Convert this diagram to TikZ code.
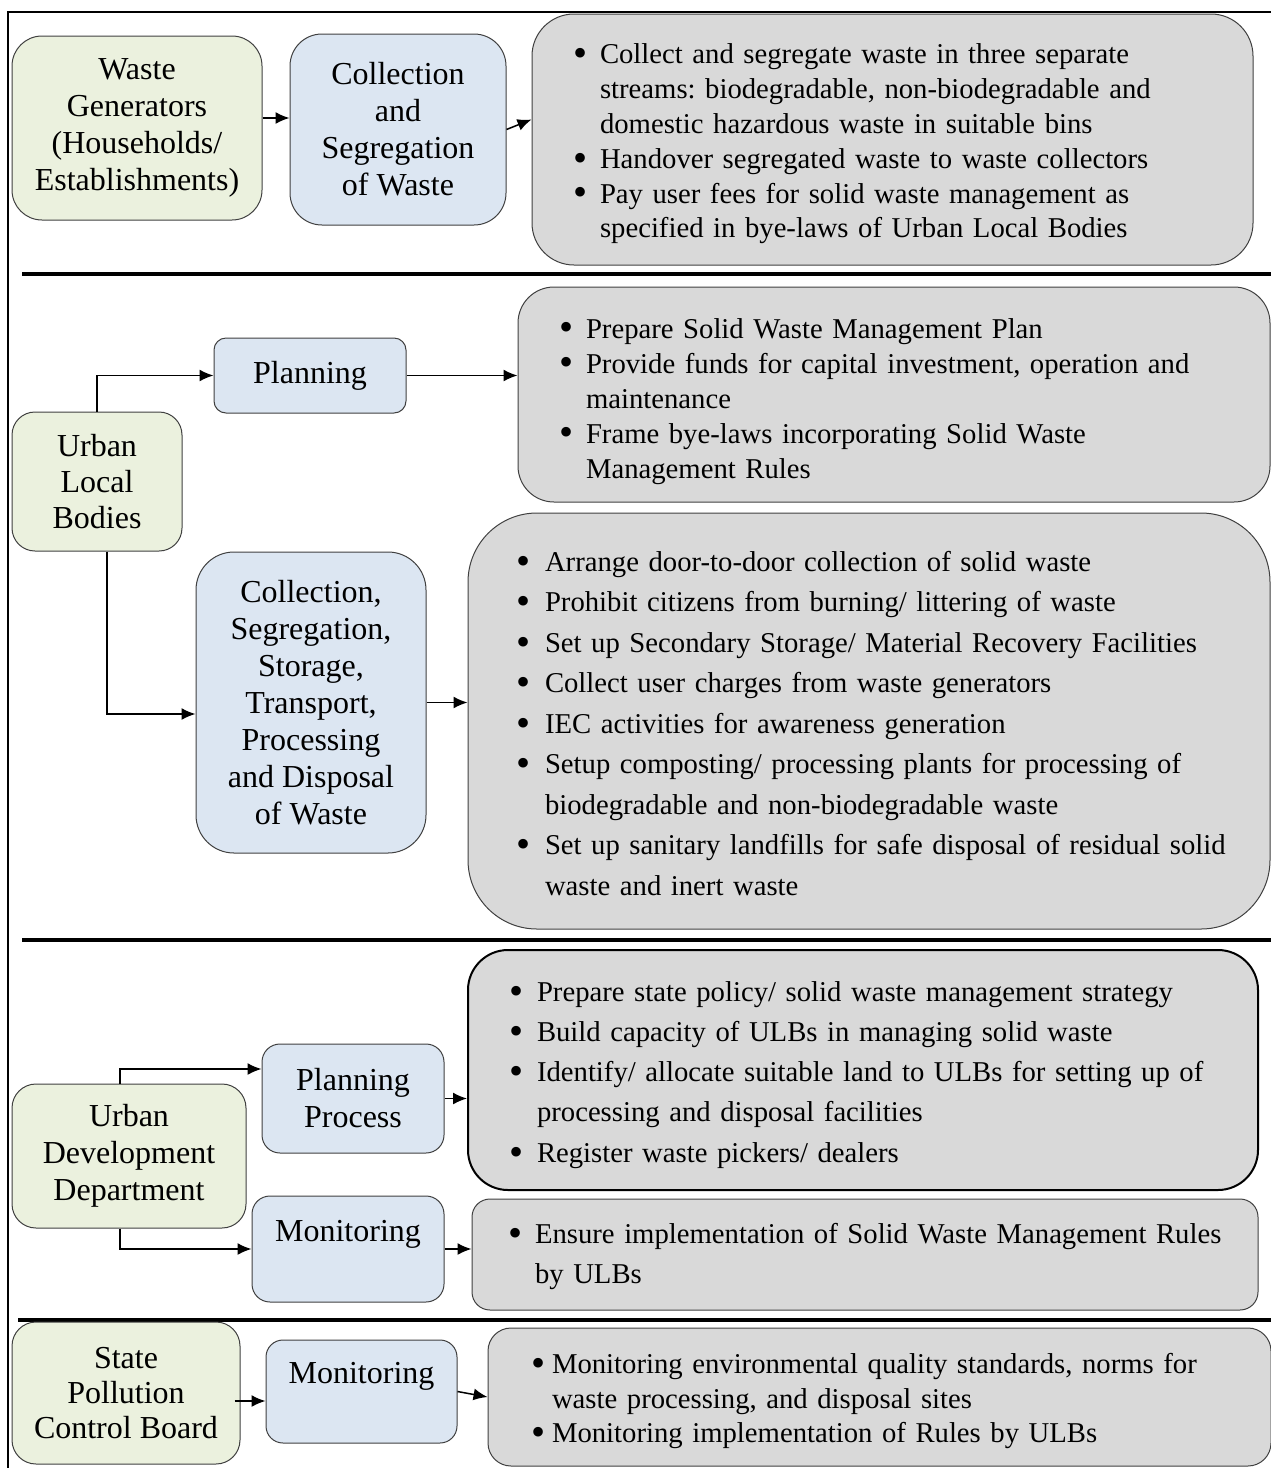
\documentclass[tikz,border=0pt]{standalone}
\usepackage{fontspec}
\setmainfont{Liberation Serif}
\usepackage{graphicx}
\usetikzlibrary{arrows.meta}

\definecolor{actorfill}{RGB}{235,241,222}
\definecolor{taskfill}{RGB}{220,230,242}
\definecolor{dutyfill}{RGB}{217,217,217}

\newlength\bulind
\setlength\bulind{27pt}
\newcommand\bitem[1]{\par\noindent\makebox[\bulind][l]{\smash{\raisebox{-0.1em}{\scalebox{1.4}{\textbullet}}}}\mbox{#1}}
\newcommand\bnext[1]{\par\noindent\hspace*{\bulind}\mbox{#1}}
\newcommand\bpad[1]{\unskip\rule[-#1]{0pt}{#1}}

\tikzset{
  actor/.style={draw=black!75, line width=1pt, fill=actorfill, align=center, inner sep=0pt, font=\fontsize{32}{37}\selectfont},
  task/.style={actor, fill=taskfill},
  duties/.style={draw=black!75, line width=1pt, fill=dutyfill, inner ysep=0pt, align=left, font=\fontsize{28.7}{35}\selectfont},
  flow/.style={-{Latex[length=14pt,width=12pt]}, line width=1.5pt},
  divider/.style={line width=4pt}
}

\begin{document}
\frenchspacing
\begin{tikzpicture}[x=1pt,y=1pt,yscale=-1]
\useasboundingbox (0,0) rectangle (1271,1468);

%Straight Lines
\draw [line width=1.5pt] (8,1468) -- (8,12) -- (1271,12);
%Straight Lines
\draw [divider] (22,274) -- (1271,274);
\draw [divider] (22,940) -- (1271,940);
\draw [divider] (18,1320) -- (1271,1320);

%Shape: Rounded Rect -- waste generators
\node [actor, rounded corners=30pt, minimum width=250pt, minimum height=184pt] (gen) at (137,128) {Waste\\Generators\\(Households/\\Establishments)};
\node [task, rounded corners=32pt, minimum width=216pt, minimum height=191pt] (segr) at (398,129.5) {Collection\\and\\Segregation\\of Waste};
\node [duties, rounded corners=42pt, minimum width=721pt, minimum height=251pt, inner xsep=41pt, text width=639pt, font=\fontsize{28.7}{34.8}\selectfont] (genlist) at (892.5,139.5) {%
\bitem{Collect and segregate waste in three separate}
\bnext{streams: biodegradable, non-biodegradable and}
\bnext{domestic hazardous waste in suitable bins}
\bitem{Handover segregated waste to waste collectors}
\bitem{Pay user fees for solid waste management as}
\bnext{specified in bye-laws of Urban Local Bodies}
\bpad{12pt}};

%Straight Lines
\draw [flow] ([yshift=-10pt]gen.east) -- ([yshift=-10pt]gen.east -| segr.west);
\draw [flow] (segr.east) -- ([yshift=-20pt]genlist.west);

%Shape: Rounded Rect -- urban local bodies
\node [actor, rounded corners=23pt, minimum width=170pt, minimum height=139pt, font=\fontsize{32}{36}\selectfont] (ulb) at (97,481.5) {Urban\\Local\\Bodies};
\node [task, rounded corners=12pt, minimum width=192pt, minimum height=75pt] (plan) at (310,375.5) {Planning};
\node [duties, rounded corners=36pt, minimum width=752pt, minimum height=215pt, inner xsep=41pt, text width=670pt] (planlist) at (894,394.5) {%
\bitem{Prepare Solid Waste Management Plan}
\bitem{Provide funds for capital investment, operation and}
\bnext{maintenance}
\bitem{Frame bye-laws incorporating Solid Waste}
\bnext{Management Rules}
\bpad{8pt}};
\node [task, rounded corners=38pt, minimum width=230pt, minimum height=301pt] (coll) at (311,702.5) {Collection,\\Segregation,\\Storage,\\Transport,\\Processing\\and Disposal\\of Waste};
\node [duties, rounded corners=69pt, minimum width=802pt, minimum height=416pt, inner xsep=48pt, text width=706pt, font=\fontsize{28.7}{40.5}\selectfont] (colllist) at (869,721) {\setlength\bulind{29pt}%
\bitem{Arrange door-to-door collection of solid waste}
\bitem{Prohibit citizens from burning/ littering of waste}
\bitem{Set up Secondary Storage/ Material Recovery Facilities}
\bitem{Collect user charges from waste generators}
\bitem{IEC activities for awareness generation}
\bitem{Setup composting/ processing plants for processing of}
\bnext{biodegradable and non-biodegradable waste}
\bitem{Set up sanitary landfills for safe disposal of residual solid}
\bnext{waste and inert waste}
\bpad{16pt}};

%Straight Lines
\draw [flow] (ulb.north) |- (plan.west);
\draw [flow] (plan.east) -- (plan.east -| planlist.west);
\draw [flow] ([xshift=10pt]ulb.south) |- ([yshift=11.5pt]coll.west);
\draw [flow] (coll.east) -- (coll.east -| colllist.west);

%Shape: Rounded Rect -- urban development department
\node [actor, rounded corners=24pt, minimum width=234pt, minimum height=144pt] (udd) at (129,1156) {Urban\\Development\\Department};
\node [task, rounded corners=18pt, minimum width=182pt, minimum height=109pt] (pp) at (353,1098.5) {Planning\\Process};
\node [duties, draw=black, line width=2pt, rounded corners=40pt, minimum width=790pt, minimum height=240pt, inner xsep=41pt, text width=708pt, font=\fontsize{28.7}{40.25}\selectfont] (pplist) at (863,1070) {\setlength\bulind{28pt}%
\bitem{Prepare state policy/ solid waste management strategy}
\bitem{Build capacity of ULBs in managing solid waste}
\bitem{Identify/ allocate suitable land to ULBs for setting up of}
\bnext{processing and disposal facilities}
\bitem{Register waste pickers/ dealers}
\bpad{17pt}};
\node [task, rounded corners=18pt, minimum width=192pt, minimum height=106pt] (udmon) at (348,1249) {Monitoring\\\mbox{}};
\node [duties, rounded corners=18pt, minimum width=786pt, minimum height=111pt, inner xsep=36pt, text width=714pt, font=\fontsize{28.7}{40}\selectfont] (udmonlist) at (865,1254.5) {%
\bitem{Ensure implementation of Solid Waste Management Rules}
\bnext{by ULBs}
\bpad{22pt}};

%Straight Lines
\draw [flow] ([xshift=-9pt]udd.north) |- ([yshift=-29.5pt]pp.west);
\draw [flow] ([xshift=-9pt]udd.south) |- (udmon.west);
\draw [flow] (pp.east) -- (pp.east -| pplist.west);
\draw [flow] (udmon.east) -- (udmon.east -| udmonlist.west);

%Shape: Rounded Rect -- state pollution control board
\node [actor, rounded corners=24pt, minimum width=228pt, minimum height=142pt, font=\fontsize{32}{35}\selectfont] (spcb) at (126,1393) {State\\Pollution\\Control Board};
\node [task, rounded corners=17pt, minimum width=191pt, minimum height=103pt] (spmon) at (361.5,1391.5) {Monitoring\\\mbox{}};
\node [duties, rounded corners=23pt, minimum width=783pt, minimum height=138pt, inner xsep=43pt, text width=697pt, font=\fontsize{28.7}{34.5}\selectfont] (spmonlist) at (879.5,1397) {\setlength\bulind{21pt}%
\bitem{Monitoring environmental quality standards, norms for}
\bnext{waste processing, and disposal sites}
\bitem{Monitoring implementation of Rules by ULBs}
\bpad{12pt}};

%Straight Lines
\draw [flow] ([xshift=-6pt,yshift=8pt]spcb.east) -- ([yshift=8pt]spcb.east -| spmon.west);
\draw [flow] (spmon.east) -- (spmonlist.west);

\end{tikzpicture}
\end{document}
